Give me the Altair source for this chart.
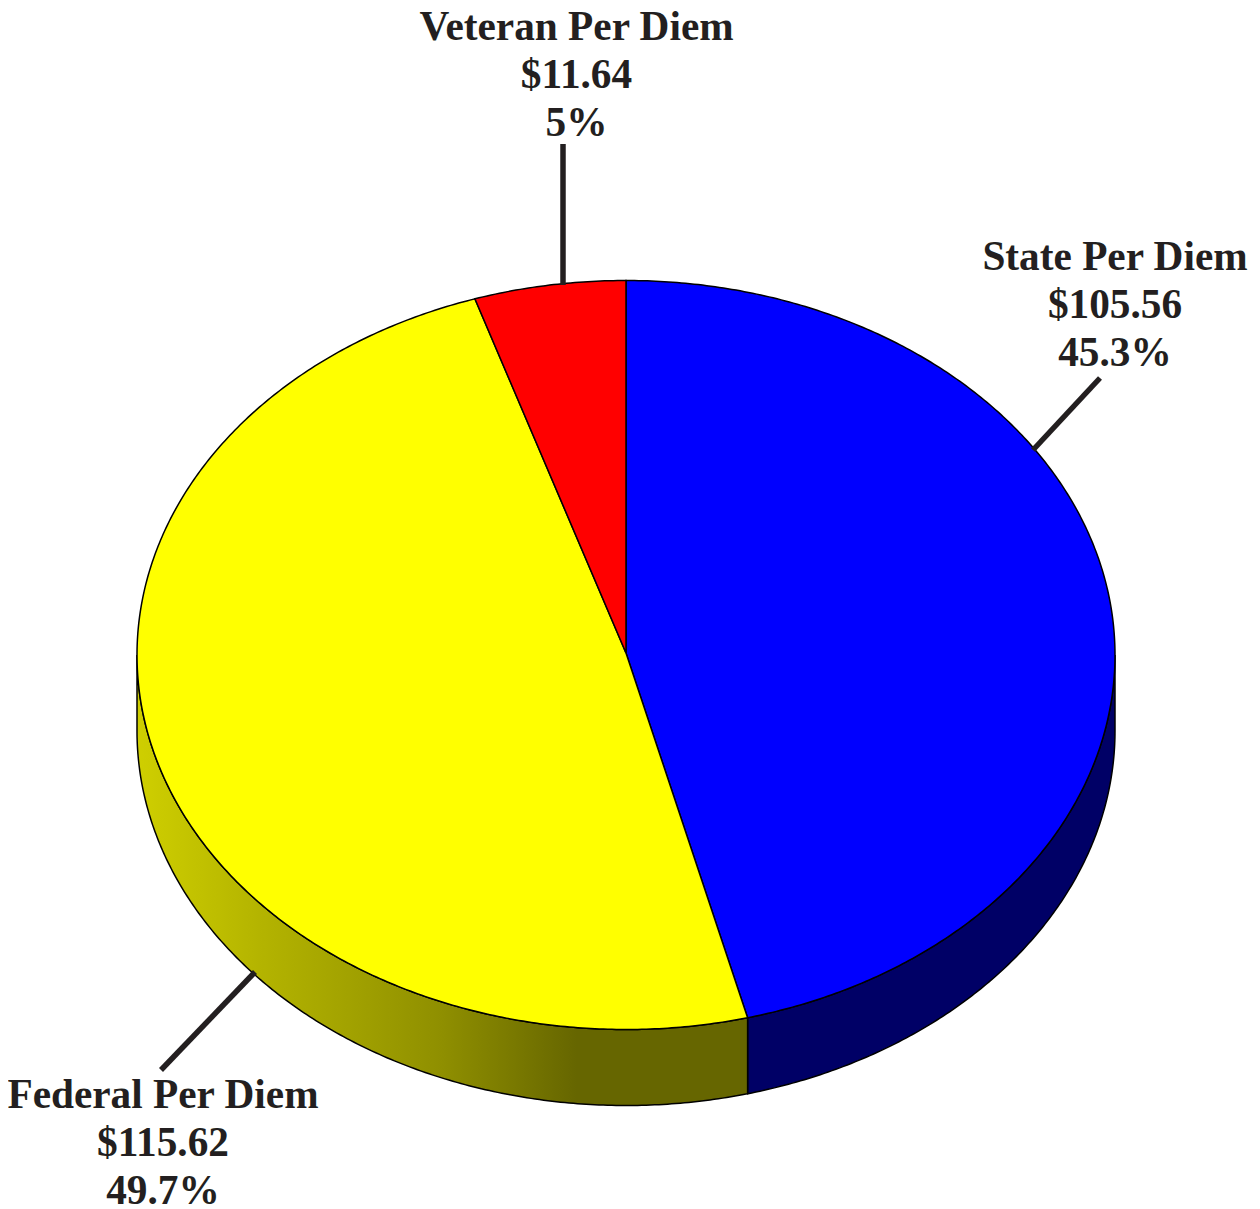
import math
import altair as alt

# Values printed on the chart
names = ["State Per Diem", "Federal Per Diem", "Veteran Per Diem"]
dollars = ["$105.56", "$115.62", "$11.64"]
percents = ["45.3%", "49.7%", "5%"]
# Slice shares as drawn in the picture (clockwise from 12 o'clock)
drawn_shares = [46.0, 49.0, 5.0]
top_colors = ["#0000ff", "#ffff00", "#ff0000"]
side_blue = "#000066"
yellow_stops = ["#cfcf00", "#b4b400", "#8f8f00", "#666600", "#666600"]
yellow_offsets = [0.0, 0.2, 0.5, 0.72, 1.0]

# Layout, in chart pixels
W, H = 1244, 1201
CX, CY, RX, RY, DEPTH = 618.0, 647.0, 489.0, 374.5, 76.0
APEX_Y = 645.0
LABEL_X = {"State Per Diem": 1107, "Federal Per Diem": 155, "Veteran Per Diem": 568.5}
LABEL_Y = {"State Per Diem": 262, "Federal Per Diem": 1100, "Veteran Per Diem": 32}
LINE_GAP = 48
FONT = "Liberation Serif"
FONT_SIZE = 41.3
INK = "#231f20"
LEADERS = [
    (1092, 370, 1025, 442),
    (153, 1062, 247, 964),
    (555, 136, 555, 277),
]


def rim(t, dy=0.0):
    return [CX + RX * math.sin(t), CY - RY * math.cos(t) + dy]


def arc_points(a0, a1, dy=0.0, step=math.radians(0.5)):
    n = max(2, int(abs(a1 - a0) / step))
    return [rim(a0 + (a1 - a0) * i / n, dy) for i in range(n + 1)]


total = sum(drawn_shares)
edges = [0.0]
for s in drawn_shares:
    edges.append(edges[-1] + 2 * math.pi * s / total)


def feature(name, ring):
    return {
        "type": "Feature",
        "properties": {"name": name},
        "geometry": {"type": "Polygon", "coordinates": [ring + [ring[0]]]},
    }


tops = []
for name, a0, a1 in zip(names, edges[:-1], edges[1:]):
    tops.append(feature(name, [[CX, APEX_Y]] + arc_points(a0, a1)))

right, bottom_split, left = math.pi / 2, edges[1], 3 * math.pi / 2
blue_side = feature(
    names[0],
    arc_points(right, bottom_split) + arc_points(bottom_split, right, DEPTH),
)
yellow_side = feature(
    names[1],
    arc_points(bottom_split, left) + arc_points(left, bottom_split, DEPTH),
)

PROJ = dict(type="identity", scale=1, translate=[0, 0])

blue_layer = alt.Chart(alt.Data(values=[blue_side])).mark_geoshape(
    fill=side_blue, stroke="#000000", strokeWidth=1.5
).project(**PROJ)

yellow_layer = alt.Chart(alt.Data(values=[yellow_side])).mark_geoshape(
    fill=alt.Gradient(
        gradient="linear",
        stops=[
            alt.GradientStop(color=c, offset=o)
            for c, o in zip(yellow_stops, yellow_offsets)
        ],
        x1=0, x2=1, y1=0, y2=0,
    ),
    stroke="#000000", strokeWidth=1.5,
).project(**PROJ)

top_layer = alt.Chart(alt.Data(values=tops)).mark_geoshape(
    stroke="#000000", strokeWidth=1.5
).encode(
    fill=alt.Fill(
        "properties.name:N",
        scale=alt.Scale(domain=names, range=top_colors),
        legend=None,
    )
).project(**PROJ)

leader_rows = [
    {"lon": a, "lat": b, "lon2": c, "lat2": d} for a, b, c, d in LEADERS
]
leader_layer = alt.Chart(alt.Data(values=leader_rows)).mark_rule(
    color=INK, strokeWidth=5.5
).encode(
    longitude="lon:Q", latitude="lat:Q", longitude2="lon2:Q", latitude2="lat2:Q"
).project(**PROJ)

text_rows = []
for name, dollar, pct in zip(names, dollars, percents):
    for i, line in enumerate([name, dollar, pct]):
        text_rows.append(
            {"lon": LABEL_X[name], "lat": LABEL_Y[name] + i * LINE_GAP, "line": line}
        )
text_layer = alt.Chart(alt.Data(values=text_rows)).mark_text(
    font=FONT, fontSize=FONT_SIZE, fontWeight="bold", color=INK,
    align="center", baseline="alphabetic",
).encode(longitude="lon:Q", latitude="lat:Q", text="line:N").project(**PROJ)

chart = alt.layer(
    blue_layer, yellow_layer, top_layer, leader_layer, text_layer
).properties(
    width=W, height=H, padding=0, autosize=alt.AutoSizeParams(type="none")
).configure_view(stroke=None)

chart.save("out.html", embed_options={"renderer": "svg", "actions": False})
